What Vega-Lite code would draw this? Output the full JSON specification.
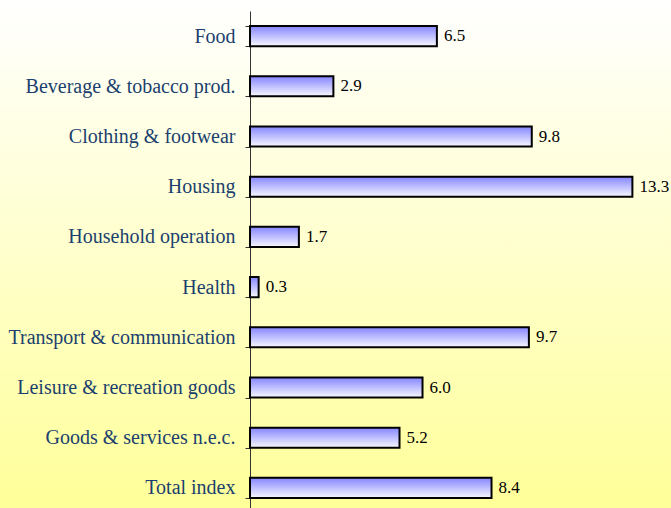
{
  "$schema": "https://vega.github.io/schema/vega-lite/v6.json",
  "width": 671,
  "height": 508,
  "autosize": "none",
  "padding": 0,
  "view": {
    "fill": {"gradient": "linear", "x1": 0, "y1": 0, "x2": 0, "y2": 1,
      "stops": [{"offset": 0, "color": "#ffffff"}, {"offset": 1, "color": "#ffff99"}]},
    "stroke": null
  },
  "data": {"values": [
    {"category": "Food", "value": 6.5},
    {"category": "Beverage & tobacco prod.", "value": 2.9},
    {"category": "Clothing & footwear", "value": 9.8},
    {"category": "Housing", "value": 13.3},
    {"category": "Household operation", "value": 1.7},
    {"category": "Health", "value": 0.3},
    {"category": "Transport & communication", "value": 9.7},
    {"category": "Leisure & recreation goods", "value": 6.0},
    {"category": "Goods & services n.e.c.", "value": 5.2},
    {"category": "Total index", "value": 8.4}
  ]},
  "encoding": {
    "y": {"field": "category", "type": "nominal", "sort": null,
      "scale": {"range": [11, 513], "paddingInner": 0.6, "paddingOuter": 0.3},
      "axis": {"orient": "left", "offset": -250, "title": null, "domain": true, "domainColor": "#333333", "domainWidth": 1,
        "ticks": true, "tickBand": "extent", "tickSize": 5, "tickColor": "#333333", "tickWidth": 1,
        "labelFont": "Liberation Serif", "labelFontSize": 20, "labelColor": "#1b3f6e", "labelPadding": 10, "labelLimit": 400}}
  },
  "layer": [
    {
      "mark": {"type": "bar", "stroke": "#000000", "strokeWidth": 2,
        "fill": {"gradient": "linear", "x1": 0, "y1": 0, "x2": 0, "y2": 1,
          "stops": [{"offset": 0, "color": "#8585ff"}, {"offset": 1, "color": "#f8f8ff"}]}},
      "encoding": {
        "x": {"field": "value", "type": "quantitative", "scale": {"domain": [-8.696, 14.643], "nice": false, "zero": false}, "axis": null},
        "x2": {"datum": 0}
      }
    },
    {
      "mark": {"type": "text", "align": "left", "baseline": "middle", "dx": 7, "font": "Liberation Serif", "fontSize": 17, "color": "#000000"},
      "encoding": {
        "x": {"field": "value", "type": "quantitative"},
        "text": {"field": "value", "type": "quantitative", "format": ".1f"}
      }
    }
  ]
}
